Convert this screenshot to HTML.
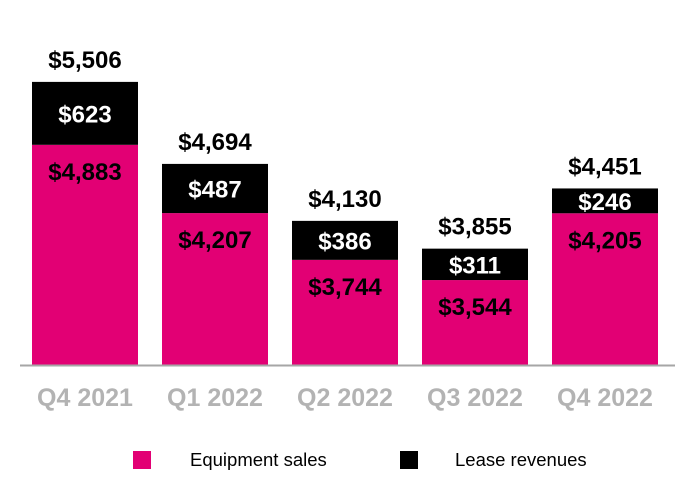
<!DOCTYPE html>
<html><head><meta charset="utf-8"><style>
body{margin:0;background:#fff;}
svg{display:block;font-family:"Liberation Sans",Arial,sans-serif;}
</style></head><body>
<svg width="690" height="500" viewBox="0 0 690 500">
<g id="bars"></g>
<line x1="20" y1="365.5" x2="675" y2="365.5" stroke="#a6a6a6" stroke-width="2"/>
<g id="labels"></g>
<g>
<rect x="133" y="451" width="18" height="18" fill="#e20074"/>
<text x="190" y="466" font-size="18.5" fill="#000">Equipment sales</text>
<rect x="400" y="451" width="18" height="18" fill="#000"/>
<text x="455" y="466" font-size="18.5" fill="#000">Lease revenues</text>
</g>
</svg>
<script>
const categories=["Q4 2021","Q1 2022","Q2 2022","Q3 2022","Q4 2022"];
const equipment=[4883,4207,3744,3544,4205];
const lease=[623,487,386,311,246];
const totals=[5506,4694,4130,3855,4451];
const ns="http://www.w3.org/2000/svg";
const k=0.101, b=638, base=365;
function y(v){return Math.min(base,b-k*v);}
function x(i){return 32+i*130;}
const bw=106;
const gb=document.getElementById('bars'), gl=document.getElementById('labels');
function mk(tag,attrs,parent){const e=document.createElementNS(ns,tag);for(const a in attrs)e.setAttribute(a,attrs[a]);parent.appendChild(e);return e;}
function fmt(v){return '$'+v.toLocaleString('en-US');}
categories.forEach((c,i)=>{
  const x0=x(i), ye=y(equipment[i]), yt=y(equipment[i]+lease[i]);
  const r1=mk('rect',{x:x0,y:ye,width:bw,height:base-ye,fill:'#e20074'},gb);
  
  
  const r2=mk('rect',{x:x0,y:yt,width:bw,height:ye-yt,fill:'#000'},gb);
  
  
  const cx=x0+bw/2;
  const t1=mk('text',{x:cx,y:ye+35,'text-anchor':'middle','font-size':24,'font-weight':'bold',fill:'#000'},gl);
  t1.textContent=fmt(equipment[i]);
  
  
  const t2=mk('text',{x:cx,y:(ye+yt)/2+9,'text-anchor':'middle','font-size':24,'font-weight':'bold',fill:'#fff'},gl);
  t2.textContent=fmt(lease[i]);
  
  
  const t3=mk('text',{x:cx,y:yt-14,'text-anchor':'middle','font-size':24,'font-weight':'bold',fill:'#000'},gl);
  t3.textContent=fmt(totals[i]);
  
  
  const t4=mk('text',{x:cx,y:406,'text-anchor':'middle','font-size':25,'font-weight':'bold',fill:'#b3b3b3'},gl);
  t4.textContent=c;
  
  
});
</script>
</body></html>
